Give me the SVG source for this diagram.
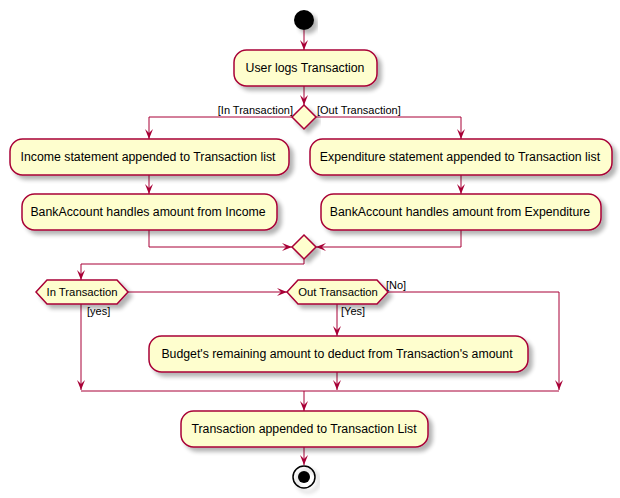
<svg xmlns="http://www.w3.org/2000/svg" width="620" height="498" viewBox="0 0 620 498">
<style>
.n{fill:#FEFECE;stroke:#A80036;stroke-width:1.5;filter:url(#sh)}
.t{font-family:"Liberation Sans",Arial,sans-serif;font-size:12.3px;fill:#000;text-anchor:middle}
.l{font-family:"Liberation Sans",Arial,sans-serif;font-size:11px;fill:#000}
.c{fill:none;stroke:#A80036;stroke-width:1}
</style>
<defs>
<filter id="sh" x="-10%" y="-20%" width="130%" height="160%">
<feGaussianBlur in="SourceAlpha" stdDeviation="2"/>
<feOffset dx="4" dy="4" result="b"/>
<feComponentTransfer><feFuncA type="linear" slope="0.3"/></feComponentTransfer>
<feMerge><feMergeNode/><feMergeNode in="SourceGraphic"/></feMerge>
</filter>
<marker id="a" viewBox="0 0 10 8" refX="10" refY="4" markerWidth="10" markerHeight="8" markerUnits="userSpaceOnUse" orient="auto">
<path d="M0,0 L10,4 L0,8 L4,4 Z" fill="#A80036"/>
</marker>
</defs>
<g id="connectors">
<path class="c" d="M304,30 V50" marker-end="url(#a)"/>
<path class="c" d="M304,86 V105" marker-end="url(#a)"/>
<path class="c" d="M292,117 H149 V139" marker-end="url(#a)"/>
<path class="c" d="M316,117 H461 V139" marker-end="url(#a)"/>
<path class="c" d="M149,175 V194" marker-end="url(#a)"/>
<path class="c" d="M461,175 V194" marker-end="url(#a)"/>
<path class="c" d="M149,230 V247 H292" marker-end="url(#a)"/>
<path class="c" d="M461,230 V247 H316" marker-end="url(#a)"/>
<path class="c" d="M304,259 V264 H81 V280" marker-end="url(#a)"/>
<path class="c" d="M128,292 H287" marker-end="url(#a)"/>
<path class="c" d="M388,292 H559 V390" marker-end="url(#a)"/>
<path class="c" d="M81,304 V390" marker-end="url(#a)"/>
<path class="c" d="M337,304 V336" marker-end="url(#a)"/>
<path class="c" d="M337,372 V390" marker-end="url(#a)"/>
<path class="c" d="M81,391 H559"/>
<path class="c" d="M304,391 V411" marker-end="url(#a)"/>
<path class="c" d="M304,447 V465" marker-end="url(#a)"/>
<text class="l" x="293" y="114" text-anchor="end">[In Transaction]</text>
<text class="l" x="317" y="114">[Out Transaction]</text>
<text class="l" x="386" y="289">[No]</text>
<text class="l" x="87" y="315">[yes]</text>
<text class="l" x="341" y="315">[Yes]</text>
</g>
<g id="start"><circle cx="304" cy="20" r="10" fill="#000" filter="url(#sh)"/></g>
<g id="userLogs"><rect class="n" x="234" y="50" width="143" height="36" rx="12.5"/><text class="t" x="305" y="72">User logs Transaction</text></g>
<g id="split"><polygon class="n" points="304,105 316,117 304,129 292,117"/></g>
<g id="income"><rect class="n" x="10" y="139" width="279" height="36" rx="12.5"/><text class="t" x="148" y="161">Income statement appended to Transaction list</text></g>
<g id="expenditure"><rect class="n" x="310" y="139" width="302" height="36" rx="12.5"/><text class="t" x="460" y="161">Expenditure statement appended to Transaction list</text></g>
<g id="bankIncome"><rect class="n" x="22" y="194" width="255" height="36" rx="12.5"/><text class="t" x="148" y="216">BankAccount handles amount from Income</text></g>
<g id="bankExp"><rect class="n" x="321" y="194" width="280" height="36" rx="12.5"/><text class="t" x="460" y="216">BankAccount handles amount from Expenditure</text></g>
<g id="merge"><polygon class="n" points="304,235 316,247 304,259 292,247"/></g>
<g id="inTx"><polygon class="n" points="36,292 47,280 117,280 128,292 117,304 47,304"/><text class="t" x="82" y="296" style="font-size:11.3px">In Transaction</text></g>
<g id="outTx"><polygon class="n" points="287,292 298,280 377,280 388,292 377,304 298,304"/><text class="t" x="338" y="296" style="font-size:11.3px">Out Transaction</text></g>
<g id="budget"><rect class="n" x="149" y="336" width="379" height="36" rx="12.5"/><text class="t" x="337" y="358">Budget's remaining amount to deduct from Transaction's amount</text></g>
<g id="appended"><rect class="n" x="181" y="411" width="247" height="36" rx="12.5"/><text class="t" x="304" y="433">Transaction appended to Transaction List</text></g>
<g id="end"><circle cx="304" cy="477" r="11" fill="none" stroke="#000" stroke-width="1.5" filter="url(#sh)"/><circle cx="304" cy="477" r="6" fill="#000"/></g>
</svg>
